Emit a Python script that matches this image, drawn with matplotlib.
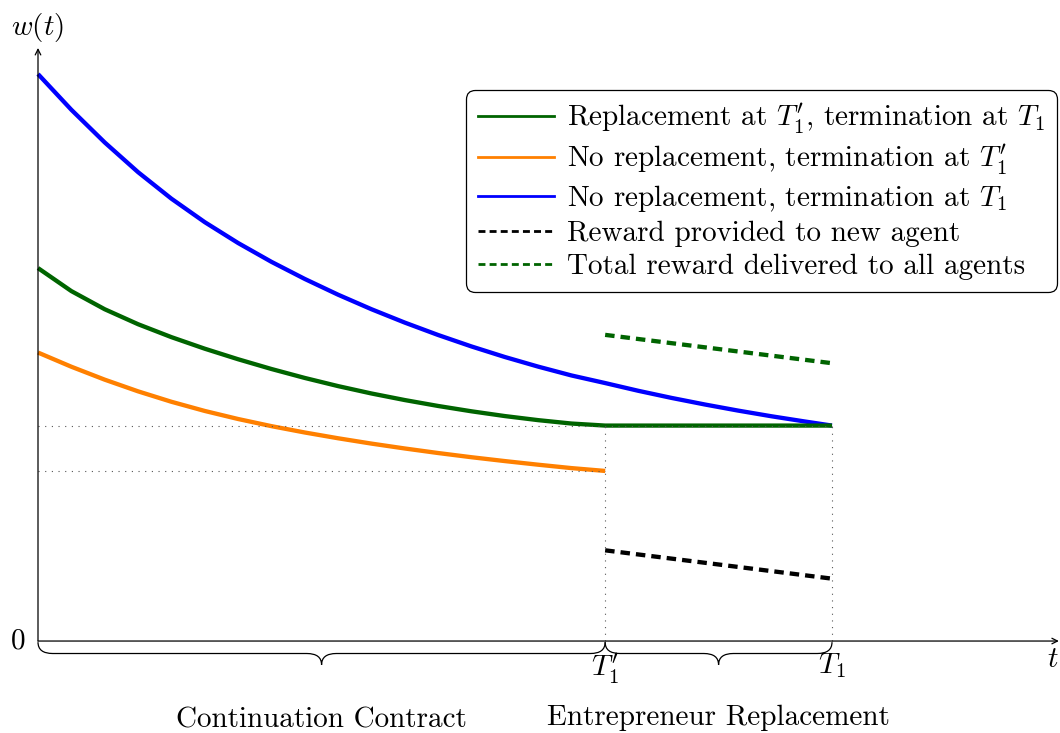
import matplotlib
matplotlib.use("Agg")
import matplotlib.pyplot as plt
from matplotlib.path import Path
from matplotlib.patches import PathPatch
from matplotlib.lines import Line2D

plt.rcParams['mathtext.fontset'] = 'cm'
plt.rcParams['font.family'] = 'serif'
plt.rcParams['font.serif'] = ['cmr10', 'DejaVu Serif']
plt.rcParams['axes.formatter.use_mathtext'] = True

# key times
T1p = 5.0
T1 = 7.0

# time grid the curves were read on
grid_t = [0, 0.294, 0.588, 0.882, 1.176, 1.470, 1.764, 2.058, 2.352, 2.646, 2.940, 3.234,
          3.527, 3.821, 4.115, 4.409, 4.703, 5.0]

# no replacement, termination at T1 (blue)
blue_t = grid_t + [5.291, 5.585, 5.879, 6.173, 6.467, 6.761, 7.0]
blue_w = [5.000, 4.685, 4.397, 4.135, 3.901, 3.694, 3.510, 3.344, 3.193, 3.054, 2.926, 2.808,
          2.699, 2.598, 2.505, 2.420, 2.342, 2.275, 2.207, 2.144, 2.086, 2.032, 1.982, 1.936, 1.900]

# replacement at T1', termination at T1 (green)
green_t = grid_t + [7.0]
green_w = [3.289, 3.086, 2.926, 2.794, 2.680, 2.578, 2.485, 2.399, 2.320, 2.248, 2.183, 2.125,
           2.073, 2.026, 1.984, 1.948, 1.918, 1.900, 1.900]

# no replacement, termination at T1' (orange)
orange_t = grid_t
orange_w = [2.544, 2.419, 2.305, 2.202, 2.110, 2.029, 1.958, 1.895, 1.839, 1.788, 1.741, 1.698,
            1.658, 1.621, 1.587, 1.555, 1.525, 1.500]

# rewards after replacement
new_t = [5.0, 7.0]
new_w = [0.80, 0.55]
total_w = [2.70, 2.45]

green = '#006400'
orange = '#ff8000'
blue = '#0000ff'
fs = 21

fig = plt.figure(figsize=(10.6, 7.33), dpi=100)
ax = fig.add_axes([0, 0, 1, 1])
ax.set_xlim(-0.335, 9.01)
ax.set_ylim(-0.811, 5.653)
ax.axis('off')

lw = 3.1
ax.plot(blue_t, blue_w, color=blue, lw=lw, solid_capstyle='butt', solid_joinstyle='round')
ax.plot(orange_t, orange_w, color=orange, lw=lw, solid_capstyle='butt', solid_joinstyle='round')
ax.plot(green_t, green_w, color=green, lw=lw, solid_capstyle='butt', solid_joinstyle='round')
ax.plot(new_t, new_w, color='black', lw=lw, dashes=(2.2, 1.4))
ax.plot(new_t, total_w, color=green, lw=lw, dashes=(2.2, 1.4))

# guide lines
dot = dict(color='#555555', lw=0.8, linestyle=(0, (1, 5)))
ax.plot([0, T1], [green_w[-1], green_w[-1]], **dot)
ax.plot([0, T1p], [orange_w[-1], orange_w[-1]], **dot)
ax.plot([T1p, T1p], [0, green_w[-1]], **dot)
ax.plot([T1, T1], [0, green_w[-1]], **dot)

# axes arrows
ax.annotate('', xy=(9.0, 0), xytext=(0, 0),
            arrowprops=dict(arrowstyle='->', lw=0.9, color='black', shrinkA=0, shrinkB=0))
ax.annotate('', xy=(0, 5.23), xytext=(0, 0),
            arrowprops=dict(arrowstyle='->', lw=0.9, color='black', shrinkA=0, shrinkB=0))

# labels
ax.text(0, 5.41, '$w(t)$', fontsize=fs, ha='center', va='center')
ax.text(8.95, -0.17, '$t$', fontsize=fs, ha='center', va='center')
ax.text(-0.18, 0, '$0$', fontsize=fs, ha='center', va='center')
ax.text(T1p, -0.09, "$T_1'$", fontsize=fs, ha='center', va='top')
ax.text(T1, -0.09, '$T_1$', fontsize=fs, ha='center', va='top')


def brace(x0, x1, y, h=0.2, q=0.13):
    xm = (x0 + x1) / 2
    yh = y - h / 2
    verts = [(x0, y), (x0, yh), (x0 + q, yh),
             (xm - q, yh), (xm, yh), (xm, y - h),
             (xm, yh), (xm + q, yh),
             (x1 - q, yh), (x1, yh), (x1, y)]
    codes = [Path.MOVETO, Path.CURVE3, Path.CURVE3,
             Path.LINETO, Path.CURVE3, Path.CURVE3,
             Path.CURVE3, Path.CURVE3,
             Path.LINETO, Path.CURVE3, Path.CURVE3]
    ax.add_patch(PathPatch(Path(verts, codes), fill=False, lw=0.9, edgecolor='black'))


brace(0, T1p, -0.01)
brace(T1p, T1, -0.01)
ax.text(T1p / 2, -0.70, 'Continuation Contract', fontsize=fs, ha='center', va='center')
ax.text((T1p + T1) / 2, -0.68, 'Entrepreneur Replacement', fontsize=fs, ha='center', va='center')

handles = [
    Line2D([], [], color=green, lw=2),
    Line2D([], [], color=orange, lw=2),
    Line2D([], [], color=blue, lw=2),
    Line2D([], [], color='black', lw=2, dashes=(2.5, 1.5)),
    Line2D([], [], color=green, lw=2, dashes=(2.5, 1.5)),
]
labels = [
    "Replacement at $T_1'$, termination at $T_1$",
    "No replacement, termination at $T_1'$",
    "No replacement, termination at $T_1$",
    "Reward provided to new agent",
    "Total reward delivered to all agents",
]
leg = ax.legend(handles, labels, loc='upper right', bbox_to_anchor=(0.997, 0.877),
                borderaxespad=0, fontsize=fs, handlelength=2.6, handletextpad=0.45,
                labelspacing=0.22, fancybox=True, framealpha=1, edgecolor='black',
                borderpad=0.4)
leg.get_frame().set_linewidth(0.9)
leg.get_frame().set_boxstyle('round', pad=0, rounding_size=0.3)

fig.savefig('out.png', dpi=100)
